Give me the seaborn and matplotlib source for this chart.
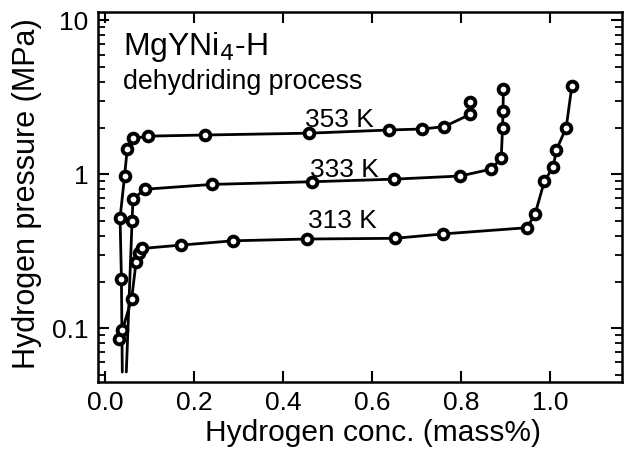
import matplotlib
matplotlib.use("Agg")
import matplotlib.pyplot as plt
import matplotlib.ticker as mticker
import seaborn as sns
import pandas as pd

sns.set_theme(style="ticks")
plt.rcParams['font.family'] = ['Liberation Sans', 'DejaVu Sans']
for k in ["text.color", "axes.labelcolor", "xtick.color", "ytick.color", "axes.edgecolor"]:
    plt.rcParams[k] = "black"

# 353 K
x353 = [0.038, 0.036, 0.033, 0.043, 0.049, 0.063, 0.096, 0.224, 0.458, 0.638, 0.713, 0.762, 0.820, 0.820]
y353 = [0.052, 0.21, 0.52, 0.97, 1.45, 1.71, 1.77, 1.80, 1.85, 1.94, 1.97, 2.04, 2.45, 2.96]
# 333 K
x333 = [0.047, 0.060, 0.062, 0.089, 0.240, 0.465, 0.648, 0.798, 0.867, 0.890, 0.893, 0.894, 0.895]
y333 = [0.052, 0.50, 0.69, 0.80, 0.86, 0.895, 0.93, 0.975, 1.08, 1.27, 1.99, 2.59, 3.56]
# 313 K
x313 = [0.031, 0.038, 0.059, 0.069, 0.075, 0.083, 0.170, 0.287, 0.453, 0.651, 0.759, 0.948,
        0.966, 0.987, 1.007, 1.014, 1.036, 1.049]
y313 = [0.085, 0.097, 0.155, 0.27, 0.31, 0.33, 0.347, 0.37, 0.38, 0.384, 0.41, 0.45,
        0.55, 0.90, 1.12, 1.44, 2.00, 3.76]

series = [("353 K", x353, y353, True), ("333 K", x333, y333, True), ("313 K", x313, y313, False)]
labels = {"353 K": (0.449, 2.04), "333 K": (0.461, 0.965), "313 K": (0.456, 0.446)}

xticks = [0.0, 0.2, 0.4, 0.6, 0.8, 1.0]
yticks = [0.1, 1, 10]
yticklabels = ["0.1", "1", "10"]

fig = plt.figure(figsize=(6.28, 4.51), dpi=100)
ax = fig.add_axes([0.1565, 0.1537, 0.8335, 0.8193])

for name, xs, ys, skip_first in series:
    df = pd.DataFrame({"x": xs, "y": ys})
    mk = list(range(1, len(xs))) if skip_first else None
    sns.lineplot(data=df, x="x", y="y", sort=False, estimator=None, ax=ax,
                 color="black", linewidth=2.0, marker="o", markersize=7,
                 markerfacecolor="white", markeredgecolor="black",
                 markeredgewidth=2.8, markevery=mk)

for name, (lx, ly) in labels.items():
    ax.text(lx, ly, name, fontsize=19, ha="left", va="baseline")

ax.set_yscale("log")
ax.set_xlim(-0.016, 1.161)
ax.set_ylim(0.045, 11.3)
ax.set_xticks(xticks)
ax.set_xticklabels([f"{t:.1f}" for t in xticks])
ax.set_yticks(yticks)
ax.set_yticklabels(yticklabels)
ax.yaxis.set_minor_locator(mticker.LogLocator(base=10, subs=range(2, 10), numticks=20))
ax.yaxis.set_minor_formatter(mticker.NullFormatter())
ax.xaxis.set_minor_locator(mticker.NullLocator())

ax.tick_params(axis="both", which="major", direction="in", length=8, width=1.5,
               top=True, right=True, labelsize=19, colors="black", pad=7)
ax.tick_params(axis="y", which="minor", direction="in", length=5, width=1.3, right=True, left=True)
for s in ax.spines.values():
    s.set_linewidth(1.8)
    s.set_color("black")

ax.set_xlabel("Hydrogen conc. (mass%)", fontsize=21.5)
ax.xaxis.set_label_coords(0.525, -0.1)
ax.set_ylabel("Hydrogen pressure (MPa)", fontsize=22)
ax.yaxis.set_label_coords(-0.108, 0.51)

ax.text(0.047, 0.8837, "MgYNi$_4$-H", transform=ax.transAxes, fontsize=23, ha="left", va="baseline")
ax.text(0.047, 0.7917, "dehydriding process", transform=ax.transAxes, fontsize=19.3, ha="left", va="baseline")

fig.savefig("out.png", dpi=100)
